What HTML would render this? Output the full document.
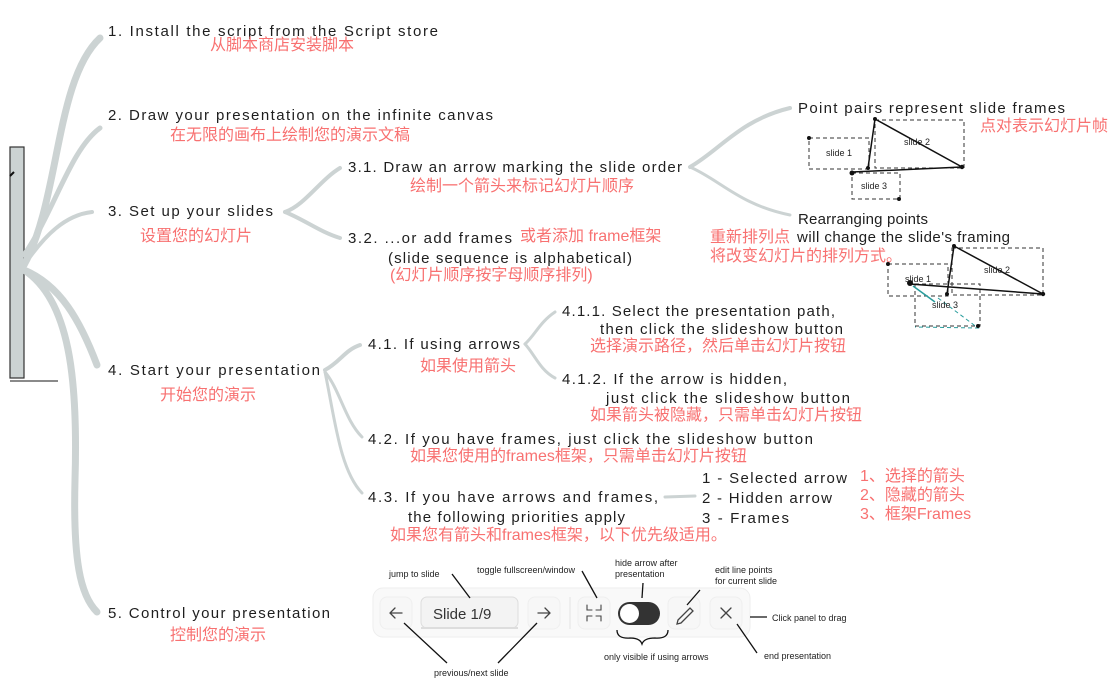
<!DOCTYPE html>
<html><head><meta charset="utf-8"><style>
html,body{margin:0;padding:0;background:#fff;}
svg{display:block}
.e{font-family:"Liberation Sans","Noto Sans CJK SC",sans-serif;font-size:15px;fill:#1e1e1e;}
.c{font-family:"Liberation Sans","Noto Sans CJK SC",sans-serif;font-size:16px;fill:#f87171;}
.s{font-family:"Liberation Sans",sans-serif;font-size:9px;fill:#1e1e1e;}
.br{fill:none;stroke:#ccd3d3;stroke-linecap:round;}
</style></head><body>
<svg width="1118" height="699" viewBox="0 0 1118 699" xmlns="http://www.w3.org/2000/svg">
<rect x="10" y="147" width="14" height="231" fill="#ccd3d3" stroke="#333" stroke-width="1.2"/>
<line x1="10" y1="381" x2="58" y2="381" stroke="#444" stroke-width="1.2"/>
<path d="M10 176 l4 -4" stroke="#111" stroke-width="2"/>
<g class="br">
<path d="M24 265 C60 200 55 80 100 38" stroke-width="7"/>
<path d="M24 255 C55 210 70 150 100 128" stroke-width="5"/>
<path d="M24 265 C45 235 65 215 92 212" stroke-width="4"/>
<path d="M24 270 C60 285 80 320 97 365" stroke-width="7"/>
<path d="M24 270 C70 300 78 380 75 480 C73 560 80 595 97 612" stroke-width="7"/>
<path d="M285 212 C305 205 320 180 340 168" stroke-width="4"/>
<path d="M285 212 C305 220 320 232 340 238" stroke-width="4"/>
<path d="M325 370 C340 362 345 350 360 345" stroke-width="4"/>
<path d="M325 372 C340 390 345 420 362 437" stroke-width="3"/>
<path d="M325 372 C335 420 340 470 362 493" stroke-width="3"/>
<path d="M525 344 C535 335 540 322 555 312" stroke-width="3"/>
<path d="M525 344 C535 355 540 370 555 378" stroke-width="3"/>
<path d="M690 167 C720 150 740 120 790 108" stroke-width="4"/>
<path d="M690 167 C720 180 740 205 790 215" stroke-width="3"/>
<path d="M665 497 L695 496" stroke-width="3"/>
</g>
<text class="e" x="108" y="36" textLength="330" lengthAdjust="spacing">1. Install the script from the Script store</text>
<text class="c" x="210" y="50">从脚本商店安装脚本</text>
<text class="e" x="108" y="120" textLength="385" lengthAdjust="spacing">2. Draw your presentation on the infinite canvas</text>
<text class="c" x="170" y="140">在无限的画布上绘制您的演示文稿</text>
<text class="e" x="108" y="216" textLength="165" lengthAdjust="spacing">3. Set up your slides</text>
<text class="c" x="140" y="241">设置您的幻灯片</text>
<text class="e" x="348" y="172" textLength="334" lengthAdjust="spacing">3.1. Draw an arrow marking the slide order</text>
<text class="c" x="410" y="191">绘制一个箭头来标记幻灯片顺序</text>
<text class="e" x="348" y="243" textLength="164" lengthAdjust="spacing">3.2. ...or add frames</text>
<text class="c" x="520" y="241">或者添加 frame框架</text>
<text class="e" x="388" y="263" textLength="244" lengthAdjust="spacing">(slide sequence is alphabetical)</text>
<text class="c" x="390" y="280">(幻灯片顺序按字母顺序排列)</text>
<text class="e" x="798" y="113" textLength="267" lengthAdjust="spacing">Point pairs represent slide frames</text>
<text class="c" x="980" y="131">点对表示幻灯片帧</text>
<text class="e" x="798" y="224" textLength="130" lengthAdjust="spacing">Rearranging points</text>
<text class="c" x="710" y="242">重新排列点</text>
<text class="e" x="797" y="242" textLength="213" lengthAdjust="spacing">will change the slide's framing</text>
<text class="c" x="710" y="261">将改变幻灯片的排列方式。</text>
<text class="e" x="108" y="375" textLength="212" lengthAdjust="spacing">4. Start your presentation</text>
<text class="c" x="160" y="400">开始您的演示</text>
<text class="e" x="368" y="349" textLength="152" lengthAdjust="spacing">4.1. If using arrows</text>
<text class="c" x="420" y="371">如果使用箭头</text>
<text class="e" x="562" y="316" textLength="273" lengthAdjust="spacing">4.1.1. Select the presentation path,</text>
<text class="e" x="600" y="334" textLength="243" lengthAdjust="spacing">then click the slideshow button</text>
<text class="c" x="590" y="351">选择演示路径，然后单击幻灯片按钮</text>
<text class="e" x="562" y="384" textLength="225" lengthAdjust="spacing">4.1.2. If the arrow is hidden,</text>
<text class="e" x="606" y="403" textLength="244" lengthAdjust="spacing">just click the slideshow button</text>
<text class="c" x="590" y="420">如果箭头被隐藏，只需单击幻灯片按钮</text>
<text class="e" x="368" y="444" textLength="445" lengthAdjust="spacing">4.2. If you have frames, just click the slideshow button</text>
<text class="c" x="410" y="461">如果您使用的frames框架，只需单击幻灯片按钮</text>
<text class="e" x="368" y="502" textLength="290" lengthAdjust="spacing">4.3. If you have arrows and frames,</text>
<text class="e" x="408" y="522" textLength="217" lengthAdjust="spacing">the following priorities apply</text>
<text class="c" x="390" y="540">如果您有箭头和frames框架，以下优先级适用。</text>
<text class="e" x="702" y="483" textLength="145" lengthAdjust="spacing">1 - Selected arrow</text>
<text class="e" x="702" y="503" textLength="130" lengthAdjust="spacing">2 - Hidden arrow</text>
<text class="e" x="702" y="523" textLength="87" lengthAdjust="spacing">3 - Frames</text>
<text class="c" x="860" y="481">1、选择的箭头</text>
<text class="c" x="860" y="500">2、隐藏的箭头</text>
<text class="c" x="860" y="519">3、框架Frames</text>
<text class="e" x="108" y="618" textLength="222" lengthAdjust="spacing">5. Control your presentation</text>
<text class="c" x="170" y="640">控制您的演示</text>

<g stroke="#333" stroke-width="1" fill="none" stroke-dasharray="4 3">
<rect x="809" y="138" width="60" height="31"/>
<rect x="875" y="120" width="89" height="48"/>
<rect x="852" y="173" width="48" height="26"/>
</g>
<g stroke="#111" stroke-width="1.5" fill="none">
<path d="M875 119 L868 168 M875 119 L962 167 L852 172"/>
</g>
<g fill="#111"><circle cx="809" cy="138" r="2"/><circle cx="875" cy="119" r="2"/><circle cx="868" cy="168" r="2"/><circle cx="962" cy="167" r="2.2"/><circle cx="852" cy="173" r="2.5"/><circle cx="899" cy="199" r="2"/></g>
<text class="s" x="826" y="156">slide 1</text><text class="s" x="904" y="145">slide 2</text><text class="s" x="861" y="189">slide 3</text>
<g stroke="#333" stroke-width="1" fill="none" stroke-dasharray="4 3">
<rect x="888" y="264" width="60" height="32"/>
<rect x="952" y="248" width="91" height="47"/>
<rect x="915" y="284" width="65" height="42"/>
</g>
<path d="M938 298 L978 328 L915 327" stroke="#2a9d9d" stroke-width="1" fill="none" stroke-dasharray="4 3"/>
<g stroke="#111" stroke-width="1.5" fill="none"><path d="M954 246 L947 294 M954 246 L1043 294 L910 284"/></g>
<path d="M935 302 L913 286" stroke="#2a9d9d" stroke-width="1.5"/>
<g fill="#111"><circle cx="888" cy="264" r="2"/><circle cx="954" cy="246" r="2"/><circle cx="947" cy="294" r="2"/><circle cx="1043" cy="294" r="2.2"/><circle cx="910" cy="283" r="3"/><circle cx="978" cy="326" r="2"/></g>
<text class="s" x="905" y="282">slide 1</text><text class="s" x="984" y="273">slide 2</text><text class="s" x="932" y="308">slide 3</text>

<rect x="373" y="588" width="377" height="49" rx="10" fill="#f9f9f9" stroke="#eee"/>
<rect x="380" y="597" width="32" height="32" rx="7" fill="#f7f7f7" stroke="#efefef"/>
<rect x="421" y="597" width="97" height="31" rx="6" fill="#f3f3f3" stroke="#ddd"/>
<rect x="421" y="627" width="97" height="2" fill="#ddd"/>
<text x="433" y="619" style="font-family:'Liberation Sans',sans-serif;font-size:15px;fill:#333">Slide 1/9</text>
<rect x="528" y="597" width="32" height="32" rx="7" fill="#f7f7f7" stroke="#efefef"/>
<line x1="570" y1="597" x2="570" y2="629" stroke="#e3e3e3"/>
<rect x="578" y="597" width="32" height="32" rx="7" fill="#f7f7f7" stroke="#efefef"/>
<rect x="618" y="602" width="42" height="23" rx="11.5" fill="#333"/>
<circle cx="629.5" cy="613.5" r="9.5" fill="#fff"/>
<rect x="668" y="597" width="32" height="32" rx="7" fill="#f7f7f7" stroke="#efefef"/>
<rect x="710" y="597" width="32" height="32" rx="7" fill="#f7f7f7" stroke="#efefef"/>
<g stroke="#444" stroke-width="1.3" fill="none" stroke-linecap="round">
<path d="M402 613 H390 M395 608 L390 613 L395 618"/>
<path d="M538 613 H550 M545 608 L550 613 L545 618"/>
<path d="M587 605 V610 H592 M601 605 V610 H596 M587 621 V616 H592 M601 621 V616 H596" stroke-width="1.1"/>
<path d="M678 620 L690 608 L693 611 L681 623 L677 624 Z"/>
<path d="M721 608 L731 618 M731 608 L721 618"/>
</g>
<g stroke="#111" stroke-width="1.3" fill="none">
<path d="M452 574 L470 598"/>
<path d="M582 571 L597 598"/>
<path d="M643 583 L642 598"/>
<path d="M700 590 L687 605"/>
<path d="M750 617 L767 617"/>
<path d="M737 624 L757 653"/>
<path d="M404 623 L447 663"/>
<path d="M537 623 L498 663"/>
<path d="M617 630 Q617 639 630 638 Q640 638 642 644 Q644 638 655 638 Q668 639 668 630"/>
</g>
<text class="s" x="389" y="577">jump to slide</text>
<text class="s" x="477" y="573">toggle fullscreen/window</text>
<text class="s" x="615" y="566">hide arrow after</text>
<text class="s" x="615" y="577">presentation</text>
<text class="s" x="715" y="573">edit line points</text>
<text class="s" x="715" y="584">for current slide</text>
<text class="s" x="772" y="621">Click panel to drag</text>
<text class="s" x="604" y="660">only visible if using arrows</text>
<text class="s" x="764" y="659">end presentation</text>
<text class="s" x="434" y="676">previous/next slide</text>
</svg>
</body></html>
